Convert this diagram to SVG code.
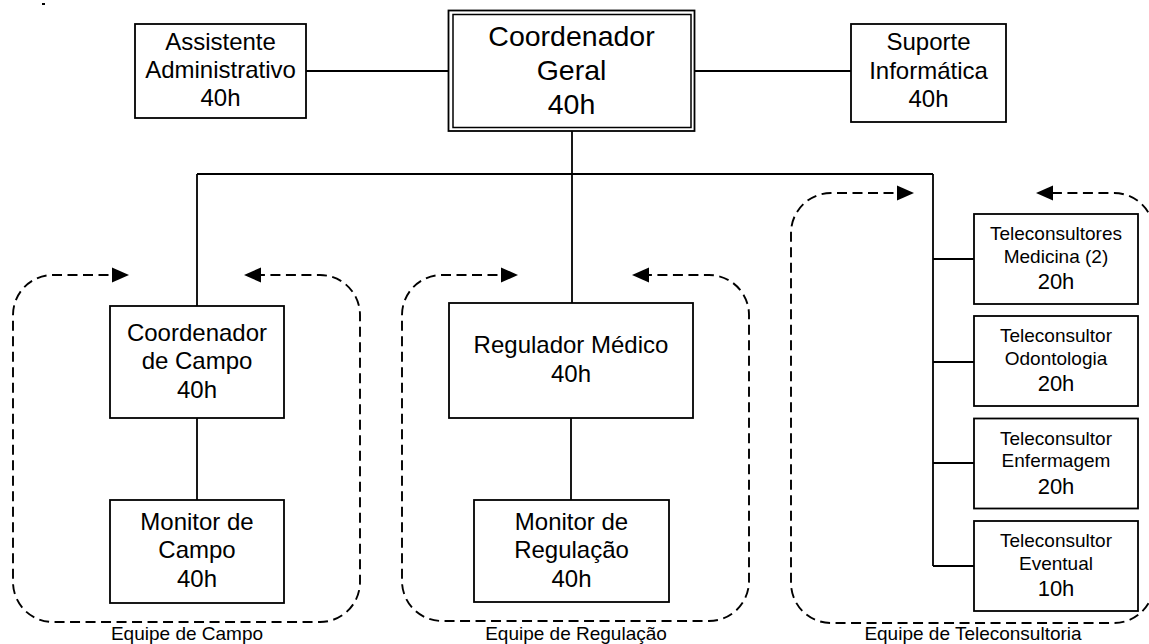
<svg xmlns="http://www.w3.org/2000/svg" width="1149" height="644" viewBox="0 0 1149 644">
<style>
.box{fill:#fff;stroke:#000;stroke-width:1.8}
.ln{fill:none;stroke:#000;stroke-width:1.8}
.dash{fill:none;stroke:#000;stroke-width:1.9;stroke-dasharray:10 5.5}
.ah{fill:#000;stroke:none}
text{font-family:"Liberation Sans",Arial,sans-serif;fill:#000;text-anchor:middle}
.t24{font-size:24px}
.t28{font-size:28.5px}
.t19{font-size:19px}
.t22{font-size:22px}
</style>
<rect x="42" y="3" width="3" height="2" fill="#000"/>
<g id="connectors">
<path class="ln" d="M306 71H449M695 71H851M572 131V174M197 174H933M197 174V306M197 418V500M572 174V303M571 418V500M933 174V566M933 259H974M933 362H974M933 463H974M933 566H974"/>
</g>
<g id="grupo-campo">
<path class="dash" d="M124 275H53A40 40 0 0 0 13 315V582A40 40 0 0 0 53 622H320A40 40 0 0 0 360 582V315A40 40 0 0 0 320 275H249"/>
<polygon class="ah" points="129,275 112,267.5 112,282.5"/>
<polygon class="ah" points="244,275 261,267.5 261,282.5"/>
<text class="t19" x="187" y="640">Equipe de Campo</text>
</g>
<g id="grupo-regulacao">
<path class="dash" d="M513 275H442A40 40 0 0 0 402 315V581A40 40 0 0 0 442 621H709A40 40 0 0 0 749 581V315A40 40 0 0 0 709 275H637"/>
<polygon class="ah" points="518,275 501,267.5 501,282.5"/>
<polygon class="ah" points="632,275 649,267.5 649,282.5"/>
<text class="t19" x="576" y="640">Equipe de Regulação</text>
</g>
<g id="grupo-teleconsultoria">
<path class="dash" d="M909 193H831A40 40 0 0 0 791 233V583A40 40 0 0 0 831 623H1114A40 40 0 0 0 1154 583V233A40 40 0 0 0 1114 193H1041"/>
<polygon class="ah" points="914,193 897,185.5 897,200.5"/>
<polygon class="ah" points="1036,193 1053,185.5 1053,200.5"/>
<text class="t19" x="973" y="640">Equipe de Teleconsultoria</text>
</g>
<g id="coordenador-geral">
<rect class="box" x="448.5" y="10.5" width="246" height="120.5" stroke-width="2"/>
<rect x="453" y="14.5" width="238" height="113" fill="none" stroke="#000" stroke-width="1.5"/>
<text class="t28" x="571.5" y="46">Coordenador</text>
<text class="t28" x="571.5" y="80">Geral</text>
<text class="t28" x="571.5" y="114">40h</text>
</g>
<g id="assistente-administrativo">
<rect class="box" x="135" y="24" width="171" height="94"/>
<text class="t24" x="220.5" y="50">Assistente</text>
<text class="t24" x="220.5" y="78">Administrativo</text>
<text class="t24" x="220.5" y="106">40h</text>
</g>
<g id="suporte-informatica">
<rect class="box" x="851" y="24" width="155" height="98"/>
<text class="t24" x="928.5" y="50">Suporte</text>
<text class="t24" x="928.5" y="78.5">Informática</text>
<text class="t24" x="928.5" y="107">40h</text>
</g>
<g id="coordenador-campo">
<rect class="box" x="110" y="306" width="174" height="112"/>
<text class="t24" x="197" y="341">Coordenador</text>
<text class="t24" x="197" y="369">de Campo</text>
<text class="t24" x="197" y="398">40h</text>
</g>
<g id="monitor-campo">
<rect class="box" x="110" y="500" width="174" height="103"/>
<text class="t24" x="197" y="530">Monitor de</text>
<text class="t24" x="197" y="558">Campo</text>
<text class="t24" x="197" y="587">40h</text>
</g>
<g id="regulador-medico">
<rect class="box" x="449" y="303" width="244" height="115"/>
<text class="t24" x="571" y="353">Regulador Médico</text>
<text class="t24" x="571" y="382">40h</text>
</g>
<g id="monitor-regulacao">
<rect class="box" x="474" y="500" width="195" height="102"/>
<text class="t24" x="571.5" y="530">Monitor de</text>
<text class="t24" x="571.5" y="558">Regulação</text>
<text class="t24" x="571.5" y="587">40h</text>
</g>
<g id="teleconsultores-medicina">
<rect class="box" x="974" y="214" width="164" height="90"/>
<text class="t19" x="1056" y="239.5">Teleconsultores</text>
<text class="t19" x="1056" y="262.5">Medicina (2)</text>
<text class="t22" x="1056" y="289">20h</text>
</g>
<g id="teleconsultor-odontologia">
<rect class="box" x="974" y="316" width="164" height="90"/>
<text class="t19" x="1056" y="341.5">Teleconsultor</text>
<text class="t19" x="1056" y="364.5">Odontologia</text>
<text class="t22" x="1056" y="391">20h</text>
</g>
<g id="teleconsultor-enfermagem">
<rect class="box" x="974" y="418.5" width="164" height="90"/>
<text class="t19" x="1056" y="444.5">Teleconsultor</text>
<text class="t19" x="1056" y="467">Enfermagem</text>
<text class="t22" x="1056" y="493.5">20h</text>
</g>
<g id="teleconsultor-eventual">
<rect class="box" x="974" y="521" width="164" height="90"/>
<text class="t19" x="1056" y="546.5">Teleconsultor</text>
<text class="t19" x="1056" y="569.5">Eventual</text>
<text class="t22" x="1056" y="596">10h</text>
</g>
</svg>
